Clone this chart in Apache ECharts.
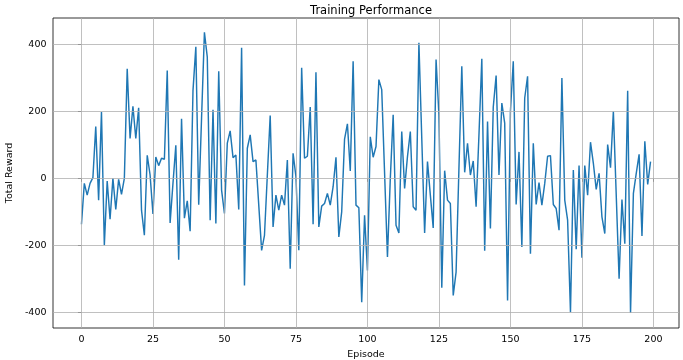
<!DOCTYPE html>
<html>
<head>
<meta charset="utf-8">
<script src="https://cdn.jsdelivr.net/npm/echarts@6/dist/echarts.min.js"></script>
<style>html,body{margin:0;padding:0;background:#fff;}#c{width:683px;height:360px;}</style>
</head>
<body>
<div id="c"></div>
<script>
const rewards = [
-137,-15,-50,-15,2,155,-65,198,-200,-8,
-122,0,-93,-3,-48,0,327,119,215,119,
211,-95,-170,69,10,-106,64,38,60,57,
322,-133,-15,99,-243,178,-119,-67,-158,262,
393,-79,180,436,362,-125,205,-135,320,-35,
-105,105,142,62,70,-93,390,-320,90,130,
50,55,-80,-215,-170,10,188,-145,-50,-95,
-50,-80,55,-270,75,5,-215,330,60,66,
213,-137,317,-145,-83,-75,-45,-80,-25,63,
-175,-100,117,163,22,350,-80,-88,-370,-110,
-275,124,63,95,295,265,15,-235,0,190,
-140,-163,140,-30,65,140,-85,-95,405,120,
-163,50,-50,-148,355,190,-327,23,-65,-75,
-350,-280,30,335,18,105,10,52,-85,130,
357,-216,170,-150,213,307,10,225,165,-365,
200,350,-78,79,-205,240,305,-225,105,-78,
-13,-80,-15,66,68,-78,-90,-155,300,-65,
-125,-400,25,-212,38,-237,38,-50,108,45,
-33,15,-115,-165,101,32,200,-50,-300,-63,
-195,262,-402,-45,15,72,-172,111,-18,50
];
const episodes = rewards.map((_, i) => i);
const xTicks = [0, 25, 50, 75, 100, 125, 150, 175, 200];
const yTicks = [-400, -200, 0, 200, 400];

const font = 'DejaVu Sans';
const gridColor = '#b0b0b0';
const chart = echarts.init(document.getElementById('c'), null, {renderer: 'canvas'});
const gridLines = [];
xTicks.forEach(v => gridLines.push({xAxis: v}));
yTicks.forEach(v => gridLines.push({yAxis: v}));

chart.setOption({
  animation: false,
  backgroundColor: '#fff',
  title: {
    text: 'Training Performance',
    left: 366, top: 0, textAlign: 'center',
    textStyle: {fontFamily: font, fontSize: 11.5, fontWeight: 'normal', color: '#000'}
  },
  grid: {left: 53, right: 4, top: 18, bottom: 32, containLabel: false, outerBoundsMode: 'none',
         show: true, borderColor: '#000', borderWidth: 0.8, backgroundColor: 'transparent'},
  xAxis: {
    type: 'value', min: -9.95, max: 208.95,
    name: 'Episode', nameLocation: 'middle', nameGap: 19,
    nameTextStyle: {fontFamily: font, fontSize: 9.5, color: '#000', verticalAlign: 'top'},
    axisLine: {show: false},
    axisTick: {show: true, length: 3.5, lineStyle: {color: '#000', width: 0.8}, customValues: xTicks},
    axisLabel: {fontFamily: font, fontSize: 9.5, color: '#000', margin: 6.5, customValues: xTicks},
    splitLine: {show: false}
  },
  yAxis: {
    type: 'value', min: -447, max: 479,
    name: 'Total Reward', nameLocation: 'middle', nameGap: 34, nameRotate: 90,
    nameTextStyle: {fontFamily: font, fontSize: 9.5, color: '#000'},
    axisLine: {show: false},
    axisTick: {show: true, length: 3.5, lineStyle: {color: '#000', width: 0.8}, customValues: yTicks},
    axisLabel: {fontFamily: font, fontSize: 9.5, color: '#000', margin: 6.5, customValues: yTicks},
    splitLine: {show: false}
  },
  series: [
    {
      type: 'line', data: [], z: 1, silent: true,
      markLine: {
        silent: true, symbol: 'none', animation: false,
        label: {show: false},
        lineStyle: {color: gridColor, width: 0.8, type: 'solid'},
        data: gridLines
      }
    },
    {
      type: 'line', z: 3,
      data: episodes.map((e, i) => [e, rewards[i]]),
      showSymbol: false, symbol: 'none',
      lineStyle: {color: '#1f77b4', width: 1.45},
      itemStyle: {color: '#1f77b4'}
    }
  ]
});
</script>
</body>
</html>
